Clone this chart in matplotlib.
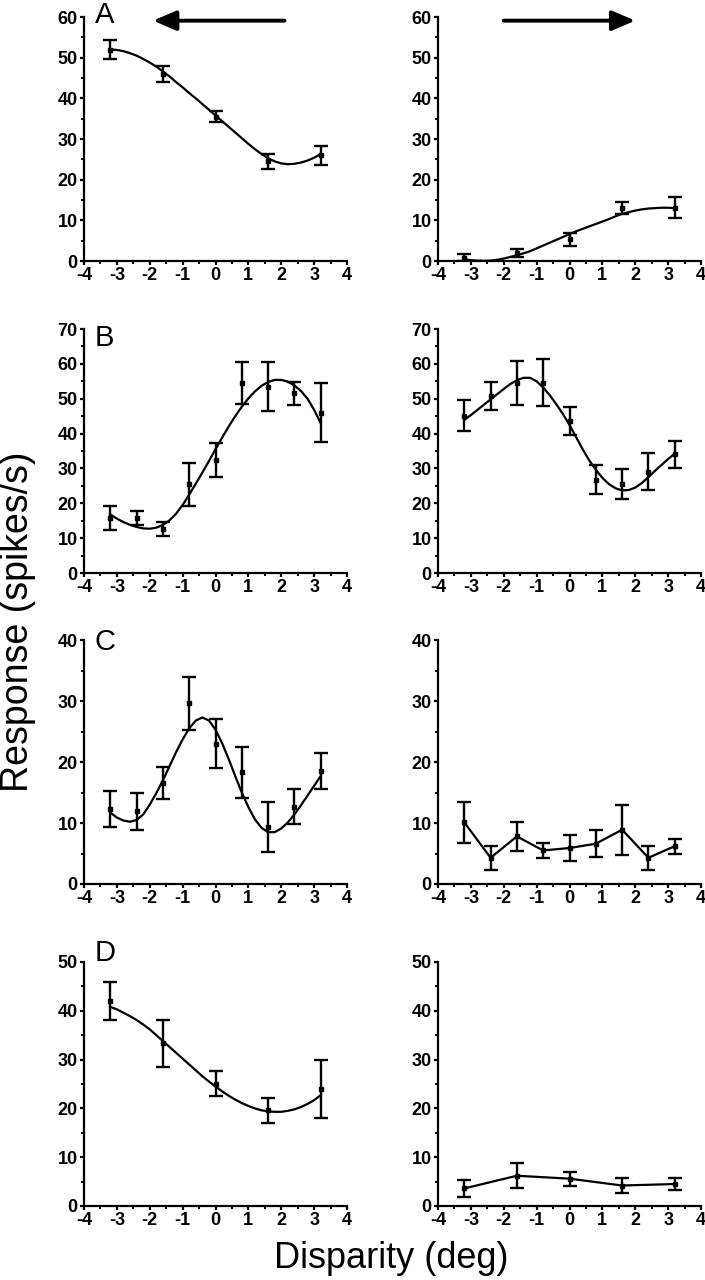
import matplotlib
matplotlib.use('Agg')
import matplotlib.pyplot as plt
from matplotlib.ticker import MultipleLocator

plt.rcParams['font.family'] = ['Liberation Sans', 'DejaVu Sans']
plt.rcParams['axes.unicode_minus'] = False

# disparity values (deg) of the measured points
x5 = [-3.2, -1.6, 0.0, 1.6, 3.2]
x9 = [-3.2, -2.4, -1.6, -0.8, 0.0, 0.8, 1.6, 2.4, 3.2]
fit_x = [-3.2, -3.0, -2.8, -2.6, -2.4, -2.2, -2.0, -1.8, -1.6, -1.4, -1.2,
         -1.0, -0.8, -0.6, -0.4, -0.2, 0.0, 0.2, 0.4, 0.6, 0.8, 1.0,
         1.2, 1.4, 1.6, 1.8, 2.0, 2.2, 2.4, 2.6, 2.8, 3.0, 3.2]

# panel A
a_left = [52.0, 46.0, 35.5, 24.5, 26.0]
a_left_err = [2.4, 1.9, 1.4, 1.9, 2.4]
a_left_fit = [52.0, 51.9, 51.6, 51.1, 50.5, 49.7, 48.8, 47.8, 46.6, 45.4, 44.0,
              42.7, 41.3, 40.0, 38.6, 37.2, 35.8, 34.4, 33.0, 31.6, 30.2, 28.8,
              27.5, 26.3, 25.3, 24.5, 24.0, 23.8, 23.9, 24.2, 24.7, 25.4, 26.3]
a_right = [0.8, 2.0, 5.3, 13.0, 13.1]
a_right_err = [0.8, 1.0, 1.5, 1.4, 2.6]
a_right_fit = [0.4, 0.2, 0.1, 0.05, 0.1, 0.3, 0.6, 1.0, 1.4, 1.9, 2.4,
               3.1, 3.8, 4.5, 5.2, 5.9, 6.6, 7.3, 7.9, 8.5, 9.1, 9.7,
               10.3, 11.0, 11.6, 12.0, 12.4, 12.7, 12.9, 13.0, 13.1, 13.1, 13.0]

# panel B
b_left = [15.8, 15.8, 12.5, 25.4, 32.4, 54.4, 53.5, 51.5, 46.0]
b_left_err = [3.5, 2.1, 2.0, 6.1, 5.0, 6.0, 7.0, 3.2, 8.5]
b_left_fit = [16.8, 15.6, 14.6, 13.8, 13.2, 12.8, 12.7, 13.0, 13.8, 15.1, 17.0,
              19.5, 22.5, 25.6, 28.8, 32.1, 35.5, 38.8, 42.0, 45.0, 47.7, 50.1,
              52.1, 53.7, 54.8, 55.4, 55.4, 54.9, 53.8, 52.2, 50.0, 46.8, 43.0]
b_right = [45.1, 50.8, 54.6, 54.6, 43.6, 26.8, 25.6, 29.0, 34.0]
b_right_err = [4.5, 4.1, 6.3, 6.7, 4.0, 4.1, 4.3, 5.3, 3.8]
b_right_fit = [43.9, 45.3, 46.8, 48.3, 49.8, 51.3, 52.8, 54.2, 55.3, 56.0, 56.0,
               55.0, 53.2, 51.0, 48.4, 45.6, 42.5, 39.0, 35.5, 32.3, 29.6, 27.3,
               25.5, 24.3, 23.7, 23.8, 24.5, 25.8, 27.5, 29.3, 31.0, 32.7, 34.2]

# panel C
c_left = [12.3, 11.9, 16.6, 29.6, 23.0, 18.3, 9.3, 12.7, 18.5]
c_left_err = [2.9, 3.1, 2.6, 4.4, 4.0, 4.2, 4.1, 2.9, 3.0]
c_left_fit = [11.7, 10.9, 10.4, 10.2, 10.5, 11.4, 13.0, 14.9, 17.0, 19.3, 21.6,
              23.7, 25.5, 26.8, 27.3, 26.8, 25.3, 23.1, 20.5, 17.7, 15.0, 12.6,
              10.6, 9.2, 8.5, 8.5, 9.1, 10.1, 11.4, 12.9, 14.5, 16.1, 17.7]
c_right = [10.1, 4.3, 7.8, 5.5, 5.9, 6.6, 8.9, 4.3, 6.2]
c_right_err = [3.4, 2.0, 2.4, 1.2, 2.1, 2.2, 4.1, 2.0, 1.2]

# panel D
d_left = [42.0, 33.3, 25.1, 19.6, 24.0]
d_left_err = [3.9, 4.8, 2.5, 2.5, 6.0]
d_left_fit = [40.8, 40.3, 39.6, 38.9, 38.1, 37.2, 36.2, 35.0, 33.8, 32.6, 31.4,
              30.2, 29.0, 27.8, 26.6, 25.5, 24.5, 23.5, 22.6, 21.8, 21.1, 20.5,
              20.0, 19.6, 19.4, 19.3, 19.3, 19.5, 19.8, 20.3, 20.9, 21.7, 22.7]
d_right = [3.6, 6.2, 5.6, 4.2, 4.5]
d_right_err = [1.8, 2.6, 1.4, 1.5, 1.2]

y_tops = [60, 70, 40, 50]
letters = ['A', 'B', 'C', 'D']

W, H = 705, 1280
fig = plt.figure(figsize=(W / 100, H / 100), dpi=100)

col_left = [84, 438]
row_bottom = [261, 573, 884, 1206]
ax_w, ax_h = 263, 244
letter_y = [1.008, 0.963, 0.992, 1.037]

panels = [
    [(x5, a_left, a_left_err, a_left_fit), (x5, a_right, a_right_err, a_right_fit)],
    [(x9, b_left, b_left_err, b_left_fit), (x9, b_right, b_right_err, b_right_fit)],
    [(x9, c_left, c_left_err, c_left_fit), (x9, c_right, c_right_err, None)],
    [(x5, d_left, d_left_err, d_left_fit), (x5, d_right, d_right_err, None)],
]

axes = []
for r in range(4):
    row = []
    for c in range(2):
        ax = fig.add_axes([col_left[c] / W, 1 - row_bottom[r] / H, ax_w / W, ax_h / H])
        xs, ys, errs, fit = panels[r][c]
        if fit is not None:
            ax.plot(fit_x, fit, color='black', lw=1.6, zorder=3)
            ax.errorbar(xs, ys, yerr=errs, fmt='s', color='black', ms=2.5,
                        elinewidth=1.7, capsize=5, capthick=1.7, zorder=4)
        else:
            ax.errorbar(xs, ys, yerr=errs, fmt='s-', color='black', ms=2.5, lw=1.6,
                        elinewidth=1.7, capsize=5, capthick=1.7, zorder=4)
        ax.set_xlim(-4, 4)
        ax.set_ylim(0, y_tops[r])
        ax.xaxis.set_major_locator(MultipleLocator(1))
        ax.xaxis.set_minor_locator(MultipleLocator(0.5))
        ax.yaxis.set_major_locator(MultipleLocator(10))
        ax.yaxis.set_minor_locator(MultipleLocator(5))
        for s in ['top', 'right']:
            ax.spines[s].set_visible(False)
        for s in ['left', 'bottom']:
            ax.spines[s].set_linewidth(1.6)
        ax.tick_params(which='major', direction='out', length=3, width=1.6,
                       labelsize=13, pad=1.5)
        ax.tick_params(which='minor', direction='out', length=2, width=1.4)
        for lab in ax.get_xticklabels() + ax.get_yticklabels():
            lab.set_fontweight('bold')
        if c == 0:
            ax.text(0.04, letter_y[r], letters[r], transform=ax.transAxes,
                    fontsize=21, ha='left', va='center')
        row.append(ax)
    axes.append(row)

# direction-of-motion arrows above panel A
axes[0][0].annotate('', xy=(-1.9, 59.1), xytext=(2.1, 59.1),
                    arrowprops=dict(arrowstyle='-|>,head_length=1.4,head_width=0.6',
                                    lw=2.8, color='black', shrinkA=0, shrinkB=0),
                    annotation_clip=False)
axes[0][1].annotate('', xy=(2.0, 59.1), xytext=(-2.0, 59.1),
                    arrowprops=dict(arrowstyle='-|>,head_length=1.4,head_width=0.6',
                                    lw=2.8, color='black', shrinkA=0, shrinkB=0),
                    annotation_clip=False)

fig.text(18 / W, 1 - 622 / H, 'Response (spikes/s)', rotation=90,
         ha='center', va='center', fontsize=27)
fig.text(391 / W, 1 - 1258 / H, 'Disparity (deg)', ha='center', va='center',
         fontsize=26)

fig.savefig('out.png', dpi=100)
